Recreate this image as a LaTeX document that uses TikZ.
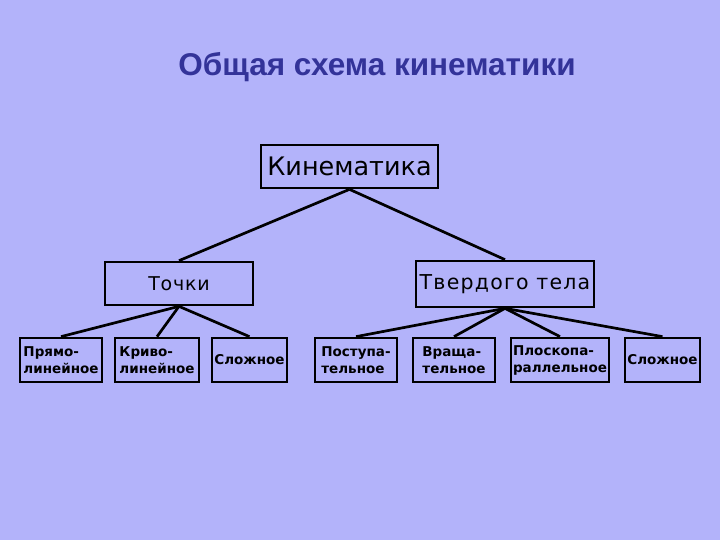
\documentclass[tikz,border=0pt]{standalone}
\usepackage{fontspec}
\setmainfont{DejaVu Sans}
\newfontfamily\midfont[LetterSpace=4]{DejaVu Sans}
\newfontfamily\tvfont[LetterSpace=6]{DejaVu Sans}
\newfontfamily\titlefont{Liberation Sans}
\definecolor{bgc}{RGB}{179,179,250}
\definecolor{titc}{RGB}{51,51,153}
\begin{document}
\begin{tikzpicture}[x=1pt,y=-1pt,
  box/.style={draw=black,line width=2.7pt,inner sep=1pt,anchor=center},
  top/.style={box,font=\fontsize{25.5}{27}\selectfont},
  mid/.style={box,font=\midfont\fontsize{19}{21}\selectfont},
  low/.style={box,align=left,font=\bfseries\fontsize{13.5}{17}\selectfont,minimum height=44pt},
  conn/.style={line width=2.7pt}]
\fill[bgc] (0,0) rectangle (720,540);
\useasboundingbox (0,0) rectangle (720,540);
\node[text=titc,font=\titlefont\bfseries\fontsize{31.5}{34}\selectfont] (title) at (377,67) {Общая схема кинематики};
\node[top,minimum width=177pt,minimum height=43pt] (kin) at (349.5,166.5) {Кинематика};
\node[mid,minimum width=148pt,minimum height=43pt] (toch) at (179,283.5) {Точки};
\node[mid,font=\tvfont\fontsize{20.5}{22}\selectfont,minimum width=178pt,minimum height=46pt] (tv) at (505,284) {Твердого тела};
\node[low,minimum width=82pt] (b1) at (61,360) {Прямо-\\линейное};
\node[low,minimum width=84pt] (b2) at (157,360) {Криво-\\линейное};
\node[low,minimum width=75pt] (b3) at (249.5,360) {Сложное};
\node[low,minimum width=82pt] (b4) at (356,360) {Поступа-\\тельное};
\node[low,minimum width=82pt] (b5) at (454,360) {Враща-\\тельное};
\node[low,minimum width=98pt] (b6) at (560,360) {Плоскопа-\\раллельное};
\node[low,minimum width=75pt] (b7) at (662.5,360) {Сложное};
\draw[conn] (kin.south) -- (toch.north);
\draw[conn] (kin.south) -- (tv.north);
\foreach \b in {b1,b2,b3} \draw[conn] (toch.south) -- (\b.north);
\foreach \b in {b4,b5,b6,b7} \draw[conn] (tv.south) -- (\b.north);
\end{tikzpicture}
\end{document}
